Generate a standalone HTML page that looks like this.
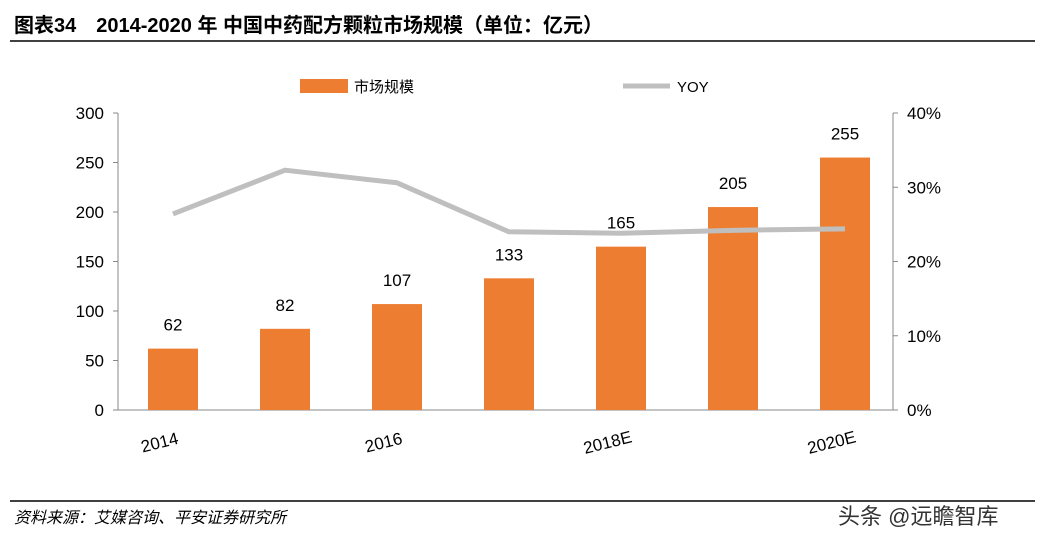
<!DOCTYPE html>
<html><head><meta charset="utf-8"><style>
body{margin:0;width:1045px;height:540px;background:#fff;overflow:hidden;font-family:"Liberation Sans","Noto Sans CJK SC",sans-serif;}
svg text{font-family:"Liberation Sans","Noto Sans CJK SC",sans-serif;}
</style></head><body>
<svg id="c" width="1045" height="540">
<text x="14" y="32" font-size="20" font-weight="bold" fill="#000">图表34　2014-2020 年 中国中药配方颗粒市场规模（单位：亿元）</text>
<line x1="10" y1="41" x2="1035" y2="41" stroke="#000" stroke-width="1.5"/>
<line x1="10" y1="501" x2="1035" y2="501" stroke="#000" stroke-width="1.5"/>
<text x="14" y="523" font-size="16" font-style="italic" fill="#000">资料来源：艾媒咨询、平安证券研究所</text>
<text x="838" y="524" font-size="22" fill="#333">头条 @远瞻智库</text>
<rect x="300" y="79" width="48" height="14" fill="#ED7D31"/>
<text x="354" y="92" font-size="15" fill="#000">市场规模</text>
<line x1="623" y1="86" x2="670" y2="86" stroke="#BFBFBF" stroke-width="5"/>
<text x="677" y="92" font-size="15" fill="#000">YOY</text>
<g id="g"></g>
</svg>
<script>
const categories=["2014","2015","2016","2017","2018E","2019E","2020E"];
const shownLabels=["2014","","2016","","2018E","","2020E"];
const marketValues=[62,82,107,133,165,205,255];
const yoyValues=[26.4,32.3,30.6,24.0,23.8,24.2,24.4];
const leftTicks=[0,50,100,150,200,250,300];
const rightTicks=[0,10,20,30,40];
const NS="http://www.w3.org/2000/svg";
const g=document.getElementById('g');
const x0=118,x1=893,yb=410,yt=113;
const yL=v=>yb-(v/300)*(yb-yt);
const yR=v=>yb-(v/40)*(yb-yt);
const step=112;
const xC=i=>173+step*i;
function mk(t,a){const e=document.createElementNS(NS,t);for(const k in a)e.setAttribute(k,a[k]);g.appendChild(e);return e;}
let e=mk('line',{x1:x0,y1:yt,x2:x0,y2:yb,stroke:'#888'});

e=mk('line',{x1:x1,y1:yt,x2:x1,y2:yb,stroke:'#888'});

e=mk('line',{x1:x0,y1:yb,x2:x1,y2:yb,stroke:'#888'});

leftTicks.forEach(v=>{
 let t=mk('line',{x1:x0-5,y1:yL(v),x2:x0,y2:yL(v),stroke:'#888'});
 
 let l=mk('text',{x:x0-14,y:yL(v)+6,'font-size':17,'text-anchor':'end',fill:'#000'});l.textContent=v;
 
});
rightTicks.forEach(v=>{
 let t=mk('line',{x1:x1,y1:yR(v),x2:x1+5,y2:yR(v),stroke:'#888'});
 
 let l=mk('text',{x:x1+14,y:yR(v)+6,'font-size':17,fill:'#000'});l.textContent=v+'%';
 
});
categories.forEach((c,i)=>{
 let b=mk('rect',{x:xC(i)-25,y:yL(marketValues[i]),width:50,height:yb-yL(marketValues[i]),fill:'#ED7D31'});
 
 let l=mk('text',{x:xC(i),y:yL(marketValues[i])-18,'font-size':17,'text-anchor':'middle',fill:'#000'});l.textContent=marketValues[i];
 
 if(shownLabels[i]){
  const lx=xC(i)-12, ly=yb+38;
  let xl=mk('text',{x:lx,y:ly,'font-size':17,'text-anchor':'middle',fill:'#000',transform:`rotate(-14 ${lx} ${ly})`});xl.textContent=shownLabels[i];
  
 }
});
const pts=yoyValues.map((v,i)=>xC(i)+','+yR(v)).join(' ');
e=mk('polyline',{points:pts,fill:'none',stroke:'#BFBFBF','stroke-width':5,'stroke-linejoin':'round'});

</script>
</body></html>
